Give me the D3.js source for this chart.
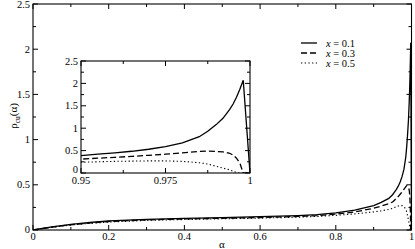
<!DOCTYPE html>
<html><head><meta charset="utf-8">
<script src="https://cdn.jsdelivr.net/npm/d3@7"></script>
<style>
body{margin:0;background:#fff;}
</style></head>
<body><svg id="c" width="415" height="249" font-family="'Liberation Serif', 'Times New Roman', serif"></svg>
<script>
const alpha = [0, 0.05, 0.1, 0.15, 0.2, 0.3, 0.4, 0.5, 0.6, 0.7, 0.75, 0.8, 0.85, 0.9, 0.92, 0.94,
  0.95, 0.955, 0.96, 0.965, 0.97, 0.975, 0.98, 0.985, 0.9875, 0.99, 0.992, 0.994, 0.995, 0.996, 0.997, 0.998, 1.0];
const rhoX01 = [0, 0.035, 0.062, 0.083, 0.1, 0.117, 0.128, 0.137, 0.147, 0.16, 0.17, 0.19, 0.22, 0.27, 0.305, 0.35,
  0.39, 0.42, 0.45, 0.485, 0.53, 0.59, 0.67, 0.81, 0.93, 1.08, 1.22, 1.42, 1.54, 1.69, 1.87, 2.07, 0];
const rhoX03 = [0, 0.032, 0.058, 0.078, 0.094, 0.112, 0.122, 0.13, 0.138, 0.15, 0.16, 0.175, 0.2, 0.24, 0.265, 0.29,
  0.31, 0.33, 0.35, 0.37, 0.395, 0.42, 0.45, 0.48, 0.49, 0.48, 0.47, 0.44, 0.40, 0.33, 0.22, 0, 0];
const rhoX05 = [0, 0.03, 0.055, 0.074, 0.088, 0.106, 0.116, 0.124, 0.131, 0.142, 0.15, 0.162, 0.178, 0.2, 0.212, 0.228,
  0.24, 0.25, 0.26, 0.265, 0.27, 0.27, 0.26, 0.23, 0.2, 0.15, 0.11, 0.07, 0.04, 0.01, 0, 0, 0];
const seriesLabels = ["x = 0.1", "x = 0.3", "x = 0.5"];
const dashes = [null, "6,3", "1.3,2.4"];
const mainXTicks = [0, 0.2, 0.4, 0.6, 0.8, 1];
const mainYTicks = [0, 0.5, 1, 1.5, 2, 2.5];
const insetXTicks = [0.95, 0.975, 1];
const insetYTicks = [0, 0.5, 1, 1.5, 2, 2.5];

const svg = d3.select("#c");
const allSeries = [rhoX01, rhoX03, rhoX05];

function frame(g, x, y, xTicks, xMinor, yTicks, yMinor, xFmt, yFmt, labelOffY, zeroLift) {
  const [x0, x1] = x.range(), [y0, y1] = y.range();
  const maj = 5, mn = 3;
  xTicks.forEach(v => {
    g.append("line").attr("x1", x(v)).attr("x2", x(v)).attr("y1", y0).attr("y2", y0 - maj).attr("stroke", "#000");
    g.append("line").attr("x1", x(v)).attr("x2", x(v)).attr("y1", y1).attr("y2", y1 + maj).attr("stroke", "#000");
    g.append("text").attr("x", x(v)).attr("y", y0 + labelOffY).attr("text-anchor", "middle").attr("font-size", 10.5).text(xFmt(v));
  });
  xMinor.forEach(v => {
    g.append("line").attr("x1", x(v)).attr("x2", x(v)).attr("y1", y0).attr("y2", y0 - mn).attr("stroke", "#000");
    g.append("line").attr("x1", x(v)).attr("x2", x(v)).attr("y1", y1).attr("y2", y1 + mn).attr("stroke", "#000");
  });
  yTicks.forEach(v => {
    g.append("line").attr("x1", x0).attr("x2", x0 + maj).attr("y1", y(v)).attr("y2", y(v)).attr("stroke", "#000");
    g.append("line").attr("x1", x1).attr("x2", x1 - maj).attr("y1", y(v)).attr("y2", y(v)).attr("stroke", "#000");
    g.append("text").attr("x", x0 - 3).attr("y", y(v) + 3.5 - (v === 0 ? zeroLift : 0)).attr("text-anchor", "end").attr("font-size", 10.5).text(yFmt(v));
  });
  yMinor.forEach(v => {
    g.append("line").attr("x1", x0).attr("x2", x0 + mn).attr("y1", y(v)).attr("y2", y(v)).attr("stroke", "#000");
    g.append("line").attr("x1", x1).attr("x2", x1 - mn).attr("y1", y(v)).attr("y2", y(v)).attr("stroke", "#000");
  });
  g.append("rect").attr("x", x0).attr("y", y1).attr("width", x1 - x0).attr("height", y0 - y1)
    .attr("fill", "none").attr("stroke", "#000").attr("stroke-width", 1.1);
}

// Main chart
const xM = d3.scaleLinear().domain([0, 1]).range([33, 411.5]);
const yM = d3.scaleLinear().domain([0, 2.5]).range([230, 4]);
const gM = svg.append("g");
svg.append("clipPath").attr("id", "cm").append("rect").attr("x", 33).attr("y", 4).attr("width", 378.5).attr("height", 226);
const lineM = d3.line().x((d, i) => xM(alpha[i])).y(d => yM(d));
allSeries.forEach((s, k) => {
  gM.append("path").attr("d", lineM(s)).attr("fill", "none").attr("stroke", "#000")
    .attr("stroke-width", k === 2 ? 1.1 : 1.3).attr("stroke-dasharray", dashes[k]).attr("clip-path", "url(#cm)");
});
frame(gM, xM, yM, mainXTicks, [0.1, 0.3, 0.5, 0.7, 0.9], mainYTicks, [0.25, 0.75, 1.25, 1.75, 2.25],
  d => d3.format("")(d), d => d3.format("")(d), 10, 1);

// axis labels
svg.append("text").attr("x", 222).attr("y", 248).attr("text-anchor", "middle").attr("font-size", 11).text("α");
const yl = svg.append("text").attr("transform", "translate(17,116) rotate(-90)").attr("text-anchor", "middle").attr("font-size", 11);
yl.append("tspan").text("ρ");
yl.append("tspan").attr("font-size", 7.5).attr("dy", 2.5).text("cu");
yl.append("tspan").attr("dy", -2.5).text("(α)");

// Legend
seriesLabels.forEach((lab, k) => {
  const yy = 43 + k * 10;
  svg.append("line").attr("x1", 301).attr("x2", 317).attr("y1", yy).attr("y2", yy).attr("stroke", "#000")
    .attr("stroke-width", k === 2 ? 1.1 : 1.3).attr("stroke-dasharray", dashes[k]);
  const t = svg.append("text").attr("x", 326).attr("y", yy + 3.5).attr("font-size", 10.5);
  t.append("tspan").attr("font-style", "italic").text("x");
  t.append("tspan").text(lab.slice(1));
});

// Inset
const xI = d3.scaleLinear().domain([0.95, 1]).range([81, 250]);
const yI = d3.scaleLinear().domain([0, 2.5]).range([173, 61]);
const gI = svg.append("g");
gI.append("rect").attr("x", 81).attr("y", 61).attr("width", 169).attr("height", 112).attr("fill", "#fff");
svg.append("clipPath").attr("id", "ci").append("rect").attr("x", 81).attr("y", 61).attr("width", 169).attr("height", 112);
const lineI = d3.line().defined((d, i) => alpha[i] >= 0.94).x((d, i) => xI(alpha[i])).y(d => yI(d));
allSeries.forEach((s, k) => {
  gI.append("path").attr("d", lineI(s)).attr("fill", "none").attr("stroke", "#000")
    .attr("stroke-width", k === 2 ? 1.1 : 1.3).attr("stroke-dasharray", dashes[k]).attr("clip-path", "url(#ci)");
});
frame(gI, xI, yI, insetXTicks, [0.9625, 0.9875], insetYTicks, [0.25, 0.75, 1.25, 1.75, 2.25],
  d => d === 1 ? "1" : d3.format("")(d), d => d3.format("")(d), 10.5, 3.5);
</script></body></html>
